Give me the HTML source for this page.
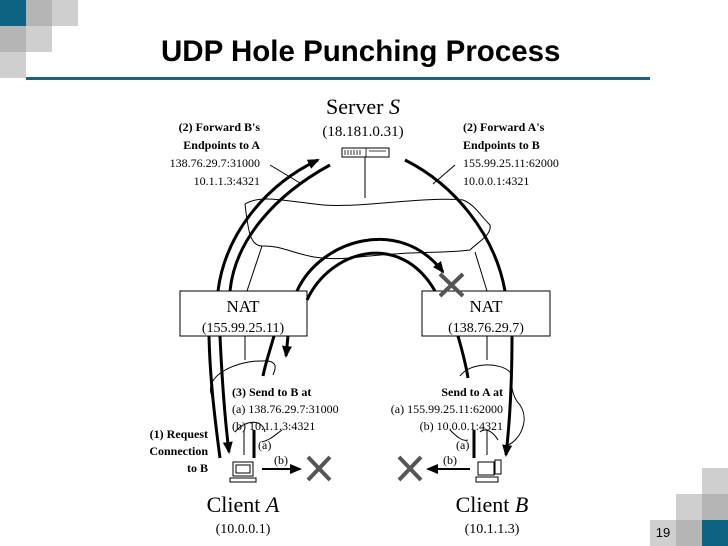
<!DOCTYPE html>
<html><head><meta charset="utf-8"><style>
html,body{margin:0;padding:0;background:#fff}
body{width:728px;height:546px;position:relative;overflow:hidden}
.sq{position:absolute;width:26px;height:26px}
.b{background:#0e6383}.g{background:#b5b5b5}.l{background:#cfcfcf}
</style></head><body>
<div class="sq b" style="left:0;top:0"></div>
<div class="sq g" style="left:26px;top:0"></div>
<div class="sq l" style="left:52px;top:0"></div>
<div class="sq g" style="left:0;top:26px"></div>
<div class="sq l" style="left:26px;top:26px"></div>
<div class="sq l" style="left:0;top:52px"></div>
<div style="position:absolute;left:26px;top:77px;width:624px;height:3px;background:#1b6480"></div>
<div style="position:absolute;left:161px;top:35px;font:bold 29.5px 'Liberation Sans',sans-serif;color:#000;white-space:nowrap">UDP Hole Punching Process</div>
<div class="sq l" style="left:702px;top:468px"></div>
<div class="sq l" style="left:676px;top:494px"></div>
<div class="sq g" style="left:702px;top:494px"></div>
<div class="sq l" style="left:650px;top:520px;font:13px 'Liberation Sans',sans-serif;text-align:center;line-height:26px">19</div>
<div class="sq g" style="left:676px;top:520px"></div>
<div class="sq b" style="left:702px;top:520px"></div>
<svg width="728" height="546" style="position:absolute;left:0;top:0" font-family="Liberation Serif,serif">
<defs>
<marker id="a2" markerWidth="12" markerHeight="10" refX="10" refY="5" orient="auto" markerUnits="userSpaceOnUse"><path d="M0,0L12,5L0,10z" fill="#000"/></marker></defs>
<rect x="342" y="148" width="47" height="9" fill="#fff" stroke="#000"/>
<path d="M345,150v5M348,150v5M351,150v5M354,150v5M357,150v5M360,150v5M366,148v9M369,151h17" stroke="#000" stroke-width="0.8"/>
<rect x="180" y="291" width="127" height="45" fill="#fff" stroke="#000"/>
<rect x="422" y="291" width="128" height="45" fill="#fff" stroke="#000"/>
<g fill="#000" text-anchor="middle">
<text x="363" y="114" font-size="22">Server <tspan font-style="italic">S</tspan></text>
<text x="363" y="136" font-size="15">(18.181.0.31)</text>
<text x="243" y="312" font-size="17">NAT</text>
<text x="243" y="332" font-size="14">(155.99.25.11)</text>
<text x="486" y="312" font-size="17">NAT</text>
<text x="486" y="332" font-size="14">(138.76.29.7)</text>
<text x="243" y="512" font-size="22">Client <tspan font-style="italic">A</tspan></text>
<text x="243" y="533" font-size="14">(10.0.0.1)</text>
<text x="492" y="512" font-size="22">Client <tspan font-style="italic">B</tspan></text>
<text x="492" y="533" font-size="14">(10.1.1.3)</text>
</g>
<g font-size="12" fill="#000" text-anchor="end">
<text x="260" y="131" font-weight="bold">(2) Forward B's</text>
<text x="260" y="149" font-weight="bold">Endpoints to A</text>
<text x="260" y="167">138.76.29.7:31000</text>
<text x="260" y="185">10.1.1.3:4321</text>
<text x="503" y="396" font-weight="bold">Send to A at</text>
<text x="503" y="413">(a) 155.99.25.11:62000</text>
<text x="503" y="430">(b) 10.0.0.1:4321</text>
<text x="208" y="438" font-weight="bold">(1) Request</text>
<text x="208" y="455" font-weight="bold">Connection</text>
<text x="208" y="472" font-weight="bold">to B</text>
</g>
<g font-size="12" fill="#000">
<text x="463" y="131" font-weight="bold">(2) Forward A's</text>
<text x="463" y="149" font-weight="bold">Endpoints to B</text>
<text x="463" y="167">155.99.25.11:62000</text>
<text x="463" y="185">10.0.0.1:4321</text>
<text x="232" y="396" font-weight="bold">(3) Send to B at</text>
<text x="232" y="413">(a) 138.76.29.7:31000</text>
<text x="232" y="430">(b) 10.1.1.3:4321</text>
<text x="258" y="449">(a)</text>
<text x="274" y="464">(b)</text>
<text x="456" y="449">(a)</text>
<text x="443" y="464">(b)</text>
</g>
<g fill="none" stroke="#000" stroke-width="1">
<path d="M365,157V198"/>
<path d="M245,204C260,195 280,200 315,204 C350,210 420,196 463,200 C475,205 480,215 490,225 C492,235 478,242 470,250 C440,254 420,250 350,258 C300,262 290,245 262,246 C250,246 248,230 245,204z"/>
<path d="M262,246L247,291M475,252L487,291"/>
<path d="M245,336V360M487,336V360"/>
<path d="M213,398C200,375 240,360 262,361 C280,360 275,370 273,375"/>
<path d="M460,376C470,362 500,362 510,372 C512,380 510,395 520,405 C530,420 520,440 508,445"/>
<path d="M235,432C245,420 262,418 265,432 M282,430C275,435 270,440 262,442"/>
<path d="M450,430C455,435 462,442 468,440 M480,432C485,428 492,430 498,440"/>
<path d="M270,165L300,183M433,184L455,165"/>
</g>
<g fill="none" stroke="#000" stroke-width="3">
<path d="M218,291C225,235 265,185 318,160" marker-end="url(#a2)"/>
<path d="M230,291C235,240 275,195 330,165"/>
<path d="M405,160C455,185 495,235 505,291"/>
<path d="M297,291C320,240 400,215 443,272" marker-end="url(#a2)"/>
<path d="M307,300C330,250 400,230 435,291"/>
<path d="M209,336C210,380 215,420 220,458"/>
<path d="M220,336C222,380 225,420 229,452" marker-end="url(#a2)"/>
<path d="M274,336C270,350 265,365 263,376"/>
<path d="M288,336L286,356" marker-end="url(#a2)"/>
<path d="M458,336C462,350 466,365 468,378"/>
<path d="M512,336C512,380 510,420 506,455" marker-end="url(#a2)"/>
<path d="M254,430V458M474,430V458"/>
</g>
<path d="M244,430v25M487,430v25" stroke="#000" stroke-width="1"/>
<g stroke="#000" stroke-width="2" fill="none">
<path d="M262,469H300" marker-end="url(#a2)"/>
<path d="M470,469H428" marker-end="url(#a2)"/>
</g>
<g stroke="#555" stroke-width="4">
<path d="M308,457L330,480M330,457L308,480"/>
<path d="M399,457L421,480M421,457L399,480"/>
<path d="M440,274L463,296M463,274L440,296"/>
</g>
<g fill="#fff" stroke="#000" stroke-width="1">
<rect x="233" y="462" width="20" height="14"/><rect x="236" y="465" width="14" height="8"/>
<rect x="230" y="478" width="26" height="4"/>
<rect x="478" y="462" width="16" height="13"/><rect x="495" y="460" width="6" height="14"/>
<rect x="476" y="477" width="22" height="5"/>
</g>
</svg>
</body></html>
